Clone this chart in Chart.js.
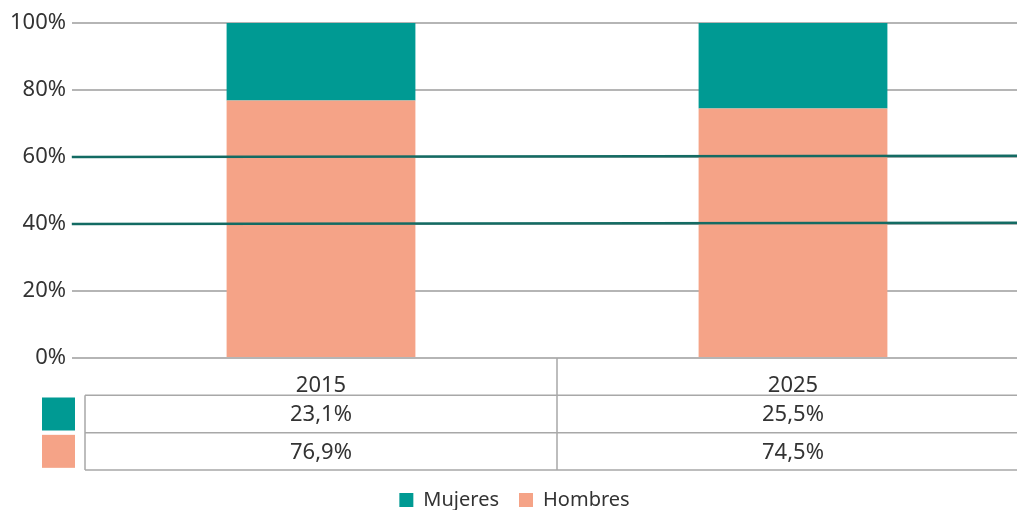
<!DOCTYPE html>
<html>
<head>
<meta charset="utf-8">
<script src="https://cdn.jsdelivr.net/npm/chart.js@4.4.1/dist/chart.umd.min.js"></script>
<style>
  html, body { margin: 0; padding: 0; background: #fff; overflow: hidden; }
  #wrap { width: 1030px; height: 510px; }
</style>
</head>
<body>
<div id="wrap"><canvas id="chart" width="1030" height="510"></canvas></div>
<script>
const years = ['2015', '2025'];
const mujeres = [23.1, 25.5];
const hombres = [76.9, 74.5];
// the two reference lines run across the whole plot
const refLineX = [-0.014, 1];
const refLow = [40, 40.4];
const refHigh = [60, 60.4];

const teal = '#009a93';
const salmon = '#f5a387';
const darkTeal = '#136b63';
const grey = '#b5b5b5';
const tableGrey = '#a8a8a8';
const textColor = '#333333';
const fontFamily = '"Noto Sans", sans-serif';

function pct(v) {
  return v.toFixed(1).replace('.', ',') + '%';
}

// data table under the x axis, drawn from the same arrays
const dataTable = {
  id: 'dataTable',
  afterDraw(chart) {
    const ctx = chart.ctx;
    const x = chart.scales.x;
    const area = chart.chartArea;
    const rowH = (x.bottom - x.top) / 3;
    const rows = [
      { values: mujeres, color: teal },
      { values: hombres, color: salmon }
    ];
    ctx.save();
    ctx.strokeStyle = tableGrey;
    ctx.lineWidth = 1.5;
    ctx.beginPath();
    for (let r = 1; r <= 3; r++) {
      const y = x.top + rowH * r;
      ctx.moveTo(area.left, y);
      ctx.lineTo(area.right, y);
    }
    ctx.moveTo(area.left, x.top + rowH);
    ctx.lineTo(area.left, x.bottom);
    for (let i = 1; i < years.length; i++) {
      const mid = (x.getPixelForValue(i - 1) + x.getPixelForValue(i)) / 2;
      ctx.moveTo(mid, x.top);
      ctx.lineTo(mid, x.bottom);
    }
    ctx.stroke();

    ctx.font = '22px ' + fontFamily;
    ctx.fillStyle = textColor;
    ctx.textAlign = 'center';
    ctx.textBaseline = 'middle';
    rows.forEach((row, r) => {
      const yc = x.top + rowH * (r + 1.5);
      row.values.forEach((v, i) => {
        ctx.fillText(pct(v), x.getPixelForValue(i), yc + 1);
      });
      const box = 33;
      ctx.fillStyle = row.color;
      ctx.fillRect(area.left - 10 - box, yc - box / 2, box, box);
      ctx.fillStyle = textColor;
    });
    ctx.restore();
  }
};

new Chart(document.getElementById('chart'), {
  type: 'bar',
  data: {
    labels: years,
    datasets: [
      {
        label: 'Hombres',
        data: hombres,
        backgroundColor: salmon,
        borderWidth: 0,
        barPercentage: 0.4,
        categoryPercentage: 1,
        grouped: false,
        order: 2
      },
      {
        label: 'Mujeres',
        data: mujeres,
        backgroundColor: teal,
        borderWidth: 0,
        barPercentage: 0.4,
        categoryPercentage: 1,
        grouped: false,
        order: 2
      },
      {
        type: 'line',
        label: 'low',
        xAxisID: 'x2',
        yAxisID: 'y2',
        data: refLineX.map((v, i) => ({ x: v, y: refLow[i] })),
        borderColor: darkTeal,
        borderWidth: 2.5,
        pointRadius: 0,
        clip: false,
        order: 1
      },
      {
        type: 'line',
        label: 'high',
        xAxisID: 'x2',
        yAxisID: 'y2',
        data: refLineX.map((v, i) => ({ x: v, y: refHigh[i] })),
        borderColor: darkTeal,
        borderWidth: 2.5,
        pointRadius: 0,
        clip: false,
        order: 1
      }
    ]
  },
  options: {
    responsive: false,
    animation: false,
    devicePixelRatio: 1,
    layout: { padding: { top: 23, left: 0, right: 1, bottom: -10 } },
    scales: {
      x: {
        type: 'category',
        stacked: true,
        grid: { display: false },
        border: { display: false },
        ticks: { color: textColor, font: { family: fontFamily, size: 22 }, padding: 7 },
        afterFit: s => { s.height = 112; }
      },
      x2: {
        type: 'linear',
        position: 'bottom',
        offset: false,
        min: 0,
        max: 1,
        grid: { display: false, offset: false },
        border: { display: false },
        ticks: { display: false },
        afterFit: s => { s.height = 0; }
      },
      y: {
        stacked: true,
        min: 0,
        max: 100,
        border: { display: false },
        grid: { color: grey, lineWidth: 2, tickLength: 13 },
        ticks: {
          stepSize: 20,
          padding: 6,
          color: textColor,
          font: { family: fontFamily, size: 22 },
          callback: v => v + '%'
        },
        afterFit: s => { s.width = 85; }
      },
      y2: {
        position: 'left',
        min: 0,
        max: 100,
        grid: { display: false },
        border: { display: false },
        ticks: { display: false },
        afterFit: s => { s.width = 0; }
      }
    },
    plugins: {
      legend: {
        position: 'bottom',
        reverse: true,
        labels: {
          filter: item => item.text === 'Mujeres' || item.text === 'Hombres',
          boxWidth: 14,
          boxHeight: 14,
          padding: 20,
          color: textColor,
          font: { family: fontFamily, size: 20 }
        }
      },
      tooltip: { enabled: false }
    }
  },
  plugins: [dataTable]
});
</script>
</body>
</html>
